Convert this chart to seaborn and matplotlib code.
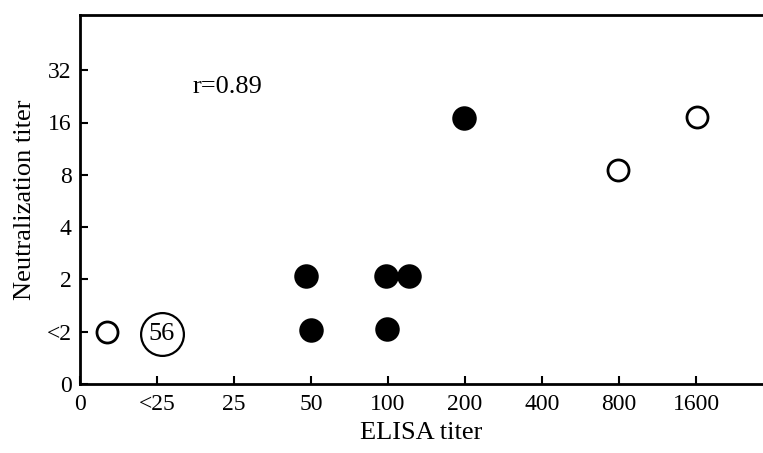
import matplotlib
matplotlib.use("Agg")
import matplotlib.pyplot as plt
import seaborn as sns
import pandas as pd

# Data (category index positions)
x_labels = ["0", "<25", "25", "50", "100", "200", "400", "800", "1600"]
y_labels = ["0", "<2", "2", "4", "8", "16", "32"]
elisa_pos = [0.35, 2.94, 3.00, 3.97, 3.99, 4.27, 4.99, 6.99, 8.01]
neut_pos = [1.00, 2.07, 1.03, 2.07, 1.05, 2.07, 5.08, 4.10, 5.10]
group = ["open", "filled", "filled", "filled", "filled", "filled", "filled", "open", "open"]
group_count_x = [1.06]
group_count_y = [0.96]
group_count_label = ["56"]
r_text = "r=0.89"

df = pd.DataFrame({"elisa": elisa_pos, "neut": neut_pos, "group": group})

sns.set_theme(style="white")
plt.rcParams["font.family"] = ["Liberation Serif", "DejaVu Serif"]
plt.rcParams["text.color"] = "black"
plt.rcParams["axes.labelcolor"] = "black"

fig = plt.figure(figsize=(7.63, 4.53), dpi=100)
ax = fig.add_axes([80 / 763, 1 - 384 / 453, 1 - 80 / 763, (384 - 15) / 453])

sns.scatterplot(data=df[df.group == "filled"], x="elisa", y="neut", ax=ax,
                color="black", edgecolor="black", s=270, linewidth=1.2, legend=False, zorder=3)
sns.scatterplot(data=df[df.group == "open"], x="elisa", y="neut", ax=ax,
                facecolor="white", edgecolor="black", s=230, linewidth=2.0, legend=False, zorder=3)
sns.scatterplot(x=group_count_x, y=group_count_y, ax=ax, facecolor="white",
                edgecolor="black", s=950, linewidth=1.6, legend=False, zorder=3)
for gx, gy, gl in zip(group_count_x, group_count_y, group_count_label):
    ax.text(gx, gy, gl, ha="center", va="center", fontsize=19, color="black", zorder=4)

ax.text(1.92, 5.68, r_text, ha="center", va="center", fontsize=19, color="black")

ax.set_xlim(0, (763 - 80) / 77)
ax.set_ylim(0, (384 - 15) / 52.3)
ax.set_xticks(range(len(x_labels)))
ax.set_xticklabels(x_labels)
ax.set_yticks(range(len(y_labels)))
ax.set_yticklabels(y_labels)
ax.tick_params(axis="both", direction="in", length=6, width=1.5, labelsize=17,
               colors="black", left=True, bottom=True)
ax.tick_params(axis="x", pad=7)
ax.tick_params(axis="y", pad=6)
ax.set_xlabel("ELISA titer", fontsize=19, labelpad=5, color="black")
ax.set_ylabel("Neutralization titer", fontsize=19, labelpad=8, color="black")

for side in ["left", "top", "bottom"]:
    ax.spines[side].set_visible(True)
    ax.spines[side].set_color("black")
    ax.spines[side].set_linewidth(2)
ax.spines["right"].set_visible(False)

fig.savefig("out.png", dpi=100)
